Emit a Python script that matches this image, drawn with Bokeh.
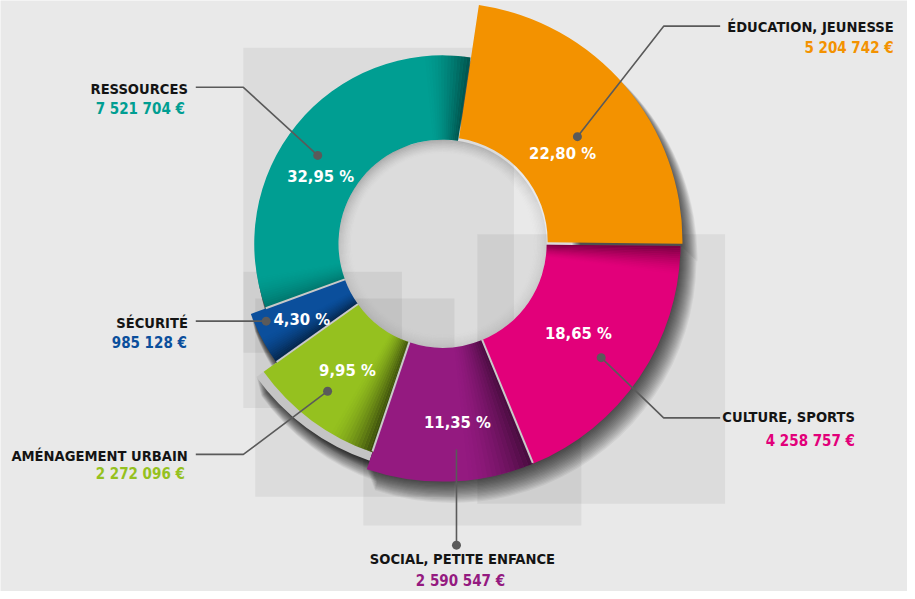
import numpy as np
from bokeh.plotting import figure
from bokeh.models import Range1d, ColumnDataSource
from bokeh.core.properties import value
from bokeh.embed import file_html
from bokeh.resources import INLINE

# ---------------- data ----------------
categories = ["ÉDUCATION, JEUNESSE", "CULTURE, SPORTS", "SOCIAL, PETITE ENFANCE",
              "AMÉNAGEMENT URBAIN", "SÉCURITÉ", "RESSOURCES"]
amounts = ["5 204 742 €", "4 258 757 €", "2 590 547 €", "2 272 096 €", "985 128 €", "7 521 704 €"]
percents = [22.80, 18.65, 11.35, 9.95, 4.30, 32.95]
pct_labels = ["22,80 %", "18,65 %", "11,35 %", "9,95 %", "4,30 %", "32,95 %"]
colors = ["#f39200", "#e2007a", "#941a80", "#95c11f", "#0b4f9c", "#009e92"]

# ---------------- styling ----------------
FONT = value("'Liberation Sans Narrow', 'DejaVu Sans Condensed', 'Roboto', sans-serif")
BG = "#e9e9e9"
CX, CY = 446, -246.5          # centre of the ring (reference pixel coords, y negated)
R_IN = 105
outer_r = [241, 240, 240, 222, 206, 190]
slice_offset = [(1, 2.5), (0, 0), (0, 0), (0, 0), (0, 0), (0, 0)]
START = 8.5                   # degrees clockwise from 12 o'clock

W, H = 907, 591
p = figure(width=W, height=H, x_range=Range1d(0, 915), y_range=Range1d(-599, 0),
           output_backend="svg", toolbar_location=None, min_border=0)
p.axis.visible = False
p.grid.visible = False
p.outline_line_color = None
p.background_fill_color = BG
p.border_fill_color = BG

def rad(theta):  # clockwise-from-top degrees -> bokeh radians
    return np.radians(90.0 - np.asarray(theta, dtype=float))

# slice angles from the data
spans = np.array(percents) / sum(percents) * 360.0
starts = START + np.concatenate([[0], np.cumsum(spans)[:-1]])
ends = starts + spans

# ---------------- decorative background rectangles ----------------
rects = [(245, 48, 518, 357), (245, 275, 405, 413), (257, 302, 458, 503),
         (366, 400, 586, 532), (481, 237, 731, 510)]
p.quad(left=[r[0] for r in rects], right=[r[2] for r in rects],
       top=[-r[1] for r in rects], bottom=[-r[3] for r in rects],
       fill_color="black", fill_alpha=0.055, line_color=None)

# ---------------- drop shadows (directional, to the lower right) ----------------
band_r = 231
sh_x, sh_y, sh_o, sh_s, sh_e = [], [], [], [], []
shapes = [(starts[i], ends[i], outer_r[i]) for i in range(6)] + [(starts[3], ends[3], band_r)]
for (s, e, r) in shapes:
    for k in range(1, 19):
        sh_x.append(CX + 0.55 * k); sh_y.append(CY - 0.85 * k)
        sh_o.append(r + 0.35 * k); sh_s.append(s); sh_e.append(e)
p.annular_wedge(x=sh_x, y=sh_y, inner_radius=R_IN + 25, outer_radius=sh_o,
                start_angle=rad(sh_s), end_angle=rad(sh_e), direction="clock",
                fill_color="black", fill_alpha=0.05, line_color=None)

# grey base band under AMÉNAGEMENT
p.annular_wedge(x=CX, y=CY, inner_radius=R_IN, outer_radius=band_r,
                start_angle=rad(starts[3]), end_angle=rad(ends[3]), direction="clock",
                fill_color="#c4c4c4", line_color=None)

# ---------------- slices ----------------
xs = [CX + o[0] for o in slice_offset]
ys = [CY + o[1] for o in slice_offset]
src = ColumnDataSource(dict(x=xs, y=ys, r=outer_r, s=rad(starts), e=rad(ends), c=colors))
p.annular_wedge(x="x", y="y", inner_radius=R_IN, outer_radius="r", start_angle="s",
                end_angle="e", direction="clock", fill_color="c", line_color=None, source=src)

# angular shading inside slices
def shade(edge, direction, span, r_out, alpha, n=14):
    ss, ee, ro, aa = [], [], [], []
    for i in range(n):
        a0 = edge + direction * span * i / n
        a1 = edge + direction * span * (i + 1) / n
        ss.append(min(a0, a1)); ee.append(max(a0, a1)); ro.append(r_out)
        aa.append(alpha * (1 - i / n) ** 1.6)
    p.annular_wedge(x=CX, y=CY, inner_radius=R_IN, outer_radius=ro,
                    start_angle=rad(ss), end_angle=rad(ee), direction="clock",
                    fill_color="black", fill_alpha=aa, line_color=None)

shade(ends[5], -1, 14, outer_r[5], 0.45)     # teal near orange
shade(starts[5], 1, 10, outer_r[5], 0.25)    # teal near blue
shade(starts[1], 1, 7, outer_r[1], 0.45)     # magenta top
shade(starts[2], 1, 16, outer_r[2], 0.5)     # purple near magenta
shade(starts[3], 1, 12, outer_r[3], 0.6)     # green near purple
shade(starts[4], 1, 8, outer_r[4], 0.55)     # blue bottom

# separators between slices
sep_x, sep_y = [], []
for i in [2, 3, 4, 5]:
    t = rad(starts[i])
    r2 = min(outer_r[i], outer_r[i - 1])
    sep_x.append([CX + R_IN * np.cos(t), CX + r2 * np.cos(t)])
    sep_y.append([CY + R_IN * np.sin(t), CY + r2 * np.sin(t)])
p.multi_line(sep_x, sep_y, line_color="#c9c9c9", line_width=2)

# inner shadow of the hole (darker on top)
hx, hy, hri, hro, hs, he, ha = [], [], [], [], [], [], []
for j in range(10):
    r1 = R_IN - j * 1.4
    for a in range(0, 360, 6):
        mid = np.radians(a + 3 + 20)
        w = 0.35 + 0.65 * max(0.0, np.cos(mid))
        hx.append(CX); hy.append(CY); hri.append(r1 - 1.4); hro.append(r1)
        hs.append(a); he.append(a + 6); ha.append(0.22 * w * (1 - j / 10) ** 1.5)
p.annular_wedge(x=hx, y=hy, inner_radius=hri, outer_radius=hro,
                start_angle=rad(hs), end_angle=rad(he), direction="clock",
                fill_color="black", fill_alpha=ha, line_color=None)

# ---------------- leader lines ----------------
leaders_x = [[726, 669, 582], [726, 669, 606], [460, 460], [197, 245, 330], [197, 268], [197, 245, 320]]
leaders_y = [[26, 26, 138], [423, 423, 362], [455, 552], [460, 460, 396], [325, 325], [88, 88, 157]]
p.multi_line(leaders_x, [[-v for v in ly] for ly in leaders_y],
             line_color="#5a5a5a", line_width=1.6)
p.scatter([lx[-1] for lx in leaders_x], [-ly[-1] for ly in leaders_y], size=9,
          fill_color="#5a5a5a", line_color=None)

# ---------------- texts ----------------
pct_pos = [(567, 155), (583, 337.5), (461, 428), (350, 375.5), (304, 323.5), (323, 178)]
p.text([q[0] for q in pct_pos], [-q[1] for q in pct_pos], text=pct_labels,
       text_font=FONT, text_font_style="bold", text_font_size="16.5px",
       text_color="white", text_align="center", text_baseline="middle")

title_pos = [(901, 26, "right"), (862, 422, "right"), (466, 566, "center"),
             (189, 461, "right"), (189, 326, "right"), (189, 89, "right")]
value_pos = [(901, 48, "right"), (862, 446, "right"), (464, 588, "center"),
             (186, 480, "right"), (188, 347, "right"), (186, 110, "right")]
for i in range(6):
    tx, ty, ta = title_pos[i]
    p.text([tx], [-ty], text=[categories[i]], text_font=FONT, text_font_style="bold",
           text_font_size="14.6px", text_color="#141414", text_align=ta, text_baseline="middle")
    vx, vy, va = value_pos[i]
    p.text([vx], [-vy], text=[amounts[i]], text_font=FONT, text_font_style="bold",
           text_font_size="15px", text_color=colors[i], text_align=va, text_baseline="middle")

open("out.html", "w").write(file_html(p, INLINE))
